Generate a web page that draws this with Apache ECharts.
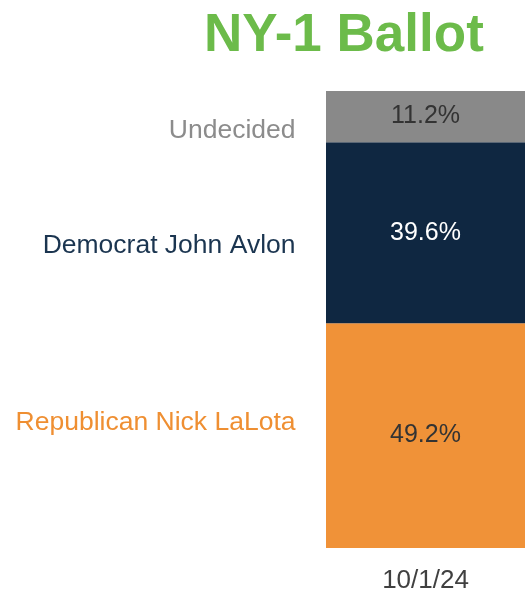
<!DOCTYPE html>
<html>
<head>
<meta charset="utf-8">
<script src="https://cdn.jsdelivr.net/npm/echarts@6/dist/echarts.min.js"></script>
<style>html,body{margin:0;padding:0;background:#fff}#c{width:529px;height:594px}</style>
</head>
<body>
<div id="c"></div>
<script>
var categories = ['10/1/24'];
var seriesNames = ['Republican Nick LaLota', 'Democrat John Avlon', 'Undecided'];
var republican = [49.2];
var democrat = [39.6];
var undecided = [11.2];
var values = [republican, democrat, undecided];

var barColors = ['#F09238', '#0F2741', '#898989'];
var nameColors = ['#EF8F32', '#1B3550', '#8C8C8C'];
var valueColors = ['#333333', '#FFFFFF', '#333333'];
var nameOffsets = [-13, 13, 14];

var chart = echarts.init(document.getElementById('c'));
var base = 0;
var series = values.map(function (arr, i) {
  var mid = base + arr[0] / 2;
  base += arr[0];
  return {
    name: seriesNames[i],
    type: 'bar',
    stack: 'total',
    barWidth: '100%',
    data: arr,
    itemStyle: { color: barColors[i] },
    label: {
      show: true,
      position: 'inside',
      formatter: function (p) { return p.value.toFixed(1) + '%'; },
      color: valueColors[i],
      fontFamily: 'Liberation Sans, Arial, sans-serif',
      fontSize: 25
    },
    markPoint: {
      symbol: 'circle',
      symbolSize: 0,
      silent: true,
      data: [{ coord: [categories[0], mid], value: seriesNames[i] }],
      label: {
        show: true,
        position: 'left',
        distance: 130,
        offset: [0, nameOffsets[i]],
        formatter: seriesNames[i],
        color: nameColors[i],
        fontFamily: 'Liberation Sans, Arial, sans-serif',
        fontSize: 26.5
      }
    }
  };
});

chart.setOption({
  animation: false,
  title: {
    text: 'NY-1 Ballot',
    left: 199,
    top: 5,
    textStyle: {
      color: '#6CBB4A',
      fontFamily: 'Liberation Sans, Arial, sans-serif',
      fontWeight: 'bold',
      fontSize: 53
    }
  },
  grid: { left: 326, right: 4, top: 91, bottom: 46 },
  xAxis: {
    type: 'category',
    data: categories,
    axisLine: { show: false },
    axisTick: { show: false },
    axisLabel: {
      margin: 20,
      color: '#404040',
      fontFamily: 'Liberation Sans, Arial, sans-serif',
      fontSize: 26
    }
  },
  yAxis: {
    type: 'value',
    min: 0,
    max: 100,
    show: false,
    splitLine: { show: false }
  },
  series: series
});
</script>
</body>
</html>
